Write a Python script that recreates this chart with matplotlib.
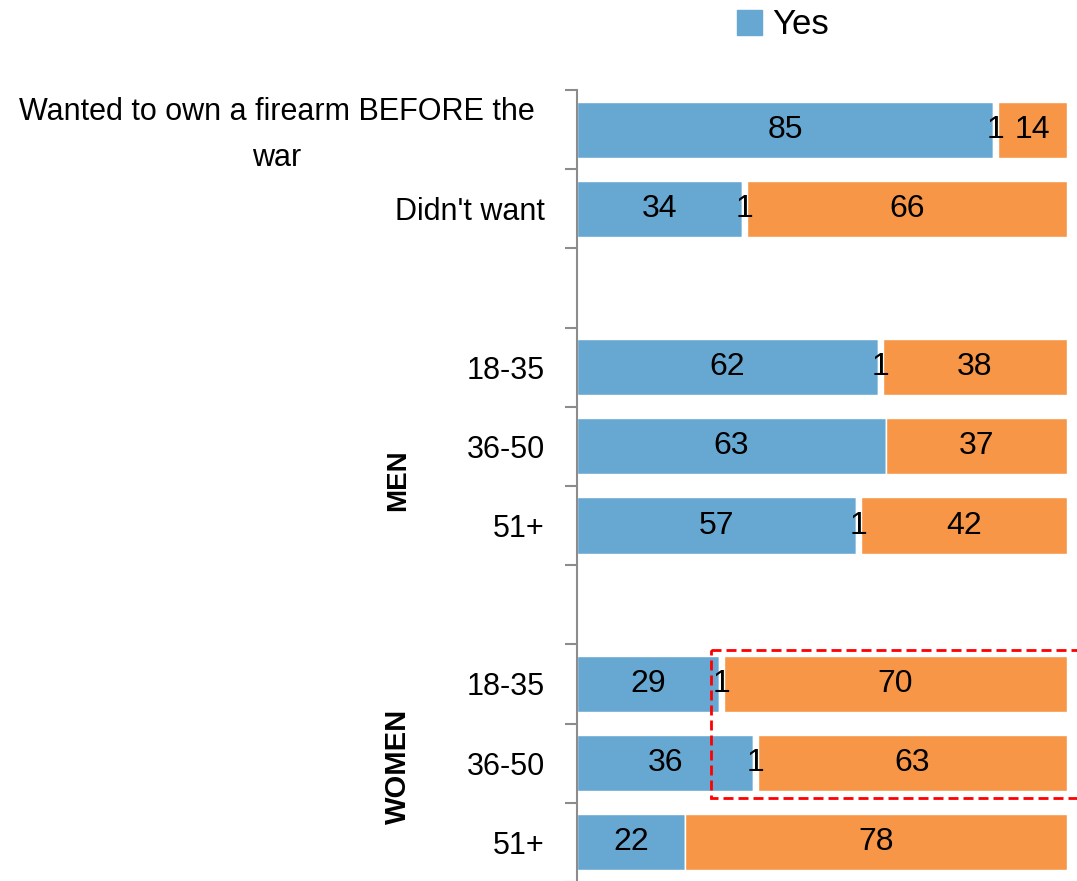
import numpy as np
import matplotlib.pyplot as plt
from matplotlib.patches import Rectangle, Patch
from matplotlib.transforms import ScaledTranslation

plt.rcParams['font.family'] = ['Liberation Sans', 'DejaVu Sans']

# data
labels = ["Wanted to own a firearm BEFORE the\nwar", "Didn't want",
          "18-35", "36-50", "51+",
          "18-35", "36-50", "51+"]
group_sizes = [2, 3, 3]
yes = [85, 34, 62, 63, 57, 29, 36, 22]
hard = [1, 1, 1, 0, 1, 1, 1, 0]
no = [14, 66, 38, 37, 42, 70, 63, 78]

blue = '#67a8d3'
orange = '#f79646'

# row positions, one empty slot between groups
pos = []
k = 0
for g in group_sizes:
    pos.extend(range(k, k + g))
    k += g + 1
pos = np.array(pos)
n_slots = k - 1

vals = np.array([yes, hard, no], dtype=float)
pct = vals / vals.sum(axis=0) * 100   # 100% stacked

fig = plt.figure(figsize=(10.77, 8.81), dpi=100)
ax = fig.add_axes([0.5357, -0.001, 0.455, 0.8988])

left = np.zeros(len(pos))
colors = [blue, 'white', orange]
for i in range(3):
    ax.barh(pos, pct[i], left=left, height=0.71, color=colors[i],
            edgecolor='white', linewidth=1)
    for y, l, w, v in zip(pos, left, pct[i], vals[i]):
        if v > 0:
            ax.text(l + w / 2, y, f"{int(v)}", ha='center', va='center',
                    fontsize=23, color='black')
    left += pct[i]

ax.set_xlim(0, 100)
ax.set_ylim(n_slots - 0.5, -0.5)
ax.set_xticks([])
ax.set_yticks(pos)
ax.set_yticklabels(labels, fontsize=22, multialignment='center', linespacing=1.7)
ax.tick_params(axis='y', which='major', length=0, pad=23)
ax.set_yticks(np.arange(-0.5, n_slots, 1.0), minor=True)
ax.tick_params(axis='y', which='minor', length=9, width=1.5, color='#8c8c8c')
for s in ['top', 'right', 'bottom']:
    ax.spines[s].set_visible(False)
ax.spines['left'].set_color('#8c8c8c')
ax.spines['left'].set_linewidth(1.5)

# the two-line label sits a little further left and higher
first = ax.get_yticklabels()[0]
first.set_transform(first.get_transform() +
                    ScaledTranslation(-0.10, 0.06, fig.dpi_scale_trans))

fig.text(398 / 1077, 1 - 480 / 881, "MEN", rotation=90, ha='center', va='center',
         fontsize=20, fontweight='bold')
fig.text(398 / 1077, 1 - 766 / 881, "WOMEN", rotation=90, ha='center', va='center',
         fontsize=21, fontweight='bold')

# highlight box
rect = Rectangle((27.3, 6.57), 80, 8.44 - 6.57, fill=False, edgecolor='#ff0000',
                 linewidth=2, linestyle=(0, (3.6, 1.8)), clip_on=False)
ax.add_patch(rect)

fig.legend(handles=[Patch(color=blue, label='Yes')], loc='center',
           bbox_to_anchor=(783 / 1077, 1 - 25 / 881), frameon=False,
           fontsize=25, handlelength=0.7, handleheight=0.7, handletextpad=0.3)

fig.savefig('out.png', dpi=100)
